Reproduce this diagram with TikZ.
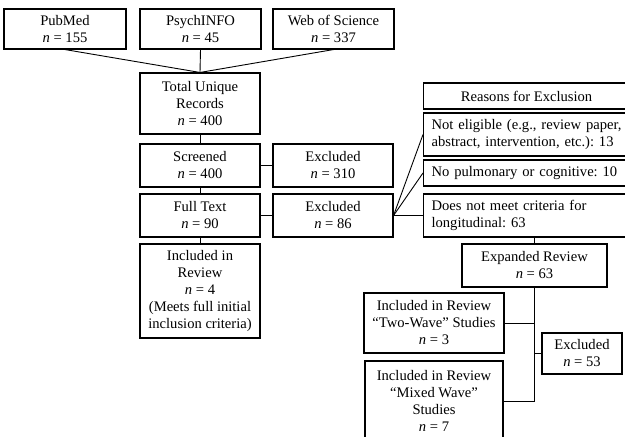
\documentclass[tikz,border=0pt]{standalone}
\usepackage{fontspec}
\setmainfont{Liberation Serif}
\frenchspacing
\newcommand{\nval}[1]{\textit{n} = #1}

\begin{document}
\begin{tikzpicture}[x=1pt,y=-1pt,
		box/.style={draw, line width=1.1pt, align=center, inner sep=2pt, font=\fontsize{14.6}{17}\selectfont},
		reason/.style={box, anchor=west, text width=210pt, align=left, inner xsep=8pt},
		link/.style={line width=0.9pt}]
				\clip (0,0) rectangle (625,437);
				% sources
				\node[box, minimum width=122pt, minimum height=40pt] (pub) at (65,29)      {PubMed\\\nval{155}};
				\node[box, minimum width=121pt, minimum height=40pt] (psy) at (200.5,29)   {PsychINFO\\\nval{45}};
				\node[box, minimum width=121pt, minimum height=40pt] (wos) at (333.5,29)   {Web of Science\\\nval{337}};
				% main column
				\node[box, minimum width=120pt, minimum height=61pt] (total) at (200,103.5) {Total Unique\\Records\\\nval{400}};
				\node[box, minimum width=120pt, minimum height=43pt] (scr) at (200,165.5)   {Screened\\\nval{400}};
				\node[box, minimum width=120pt, minimum height=43pt] (exa) at (333,165.5)   {Excluded\\\nval{310}};
				\node[box, minimum width=120pt, minimum height=43pt] (full) at (200,215.5)  {Full Text\\\nval{90}};
				\node[box, minimum width=120pt, minimum height=43pt] (exb) at (333,215.5)   {Excluded\\\nval{86}};
				\node[box, minimum width=120pt, minimum height=94pt] (inc) at (200,291)     {Included in\\Review\\\nval{4}\\(Meets full initial\\inclusion criteria)};
				% reasons
				\node[box, anchor=west, minimum width=226pt, minimum height=26pt] (rsn) at (423,96) {\hspace*{-20pt}Reasons for Exclusion};
				\node[reason, minimum height=43pt] (ne) at (423,134.5)  {Not eligible (e.g., review paper,\\abstract, intervention, etc.): 13};
				\node[reason, minimum height=26pt] (np) at (423,173)    {No pulmonary or cognitive: 10};
				\node[reason, minimum height=43pt] (dnm) at (423,215.5) {Does not meet criteria for\\longitudinal: 63};
				% expanded review
				\node[box, minimum width=145pt, minimum height=43pt] (exp) at (534.5,265.5) {Expanded Review\\\nval{63}};
				\node[box, minimum width=140pt, minimum height=60pt] (two) at (434,323)     {Included in Review\\“Two-Wave” Studies\\\nval{3}};
				\node[box, minimum width=138pt, minimum height=80pt] (mix) at (434,401)     {Included in Review\\“Mixed Wave”\\Studies\\\nval{7}};
				\node[box, minimum width=80pt, minimum height=41pt] (exc) at (582,353.5)    {Excluded\\\nval{53}};
				
				\def\merge {pub/total, psy/total, wos/total}  % into total
				\foreach \u\v in \merge
				{	\draw[link] (\u.south) -- (\v.north);
				}
				\def\down {total/scr, scr/full, full/inc}  % main column
				\foreach \u\v in \down
				{	\draw[link] (\u.south) -- (\v.north);
				}
				\def\side {scr/exa, full/exb}  % excluded
				\foreach \u\v in \side
				{	\draw[link] (\u.east) -- (\v.west);
				}
				\def\fan {ne, np, dnm}  % reasons
				\foreach \v in \fan
				{	\draw[link] (exb.east) -- (\v.west);
				}
				\draw[link] (exp.north |- dnm.south) -- (exp.north);
				\draw[link] (exp.south) -- (exp.south |- mix.east);
				\draw[link] (two.east) -- (two.east -| exp.south);
				\draw[link] (mix.east) -- (mix.east -| exp.south);
				\draw[link] (exc.west) -- (exc.west -| exp.south);
			\end{tikzpicture}
\end{document}
